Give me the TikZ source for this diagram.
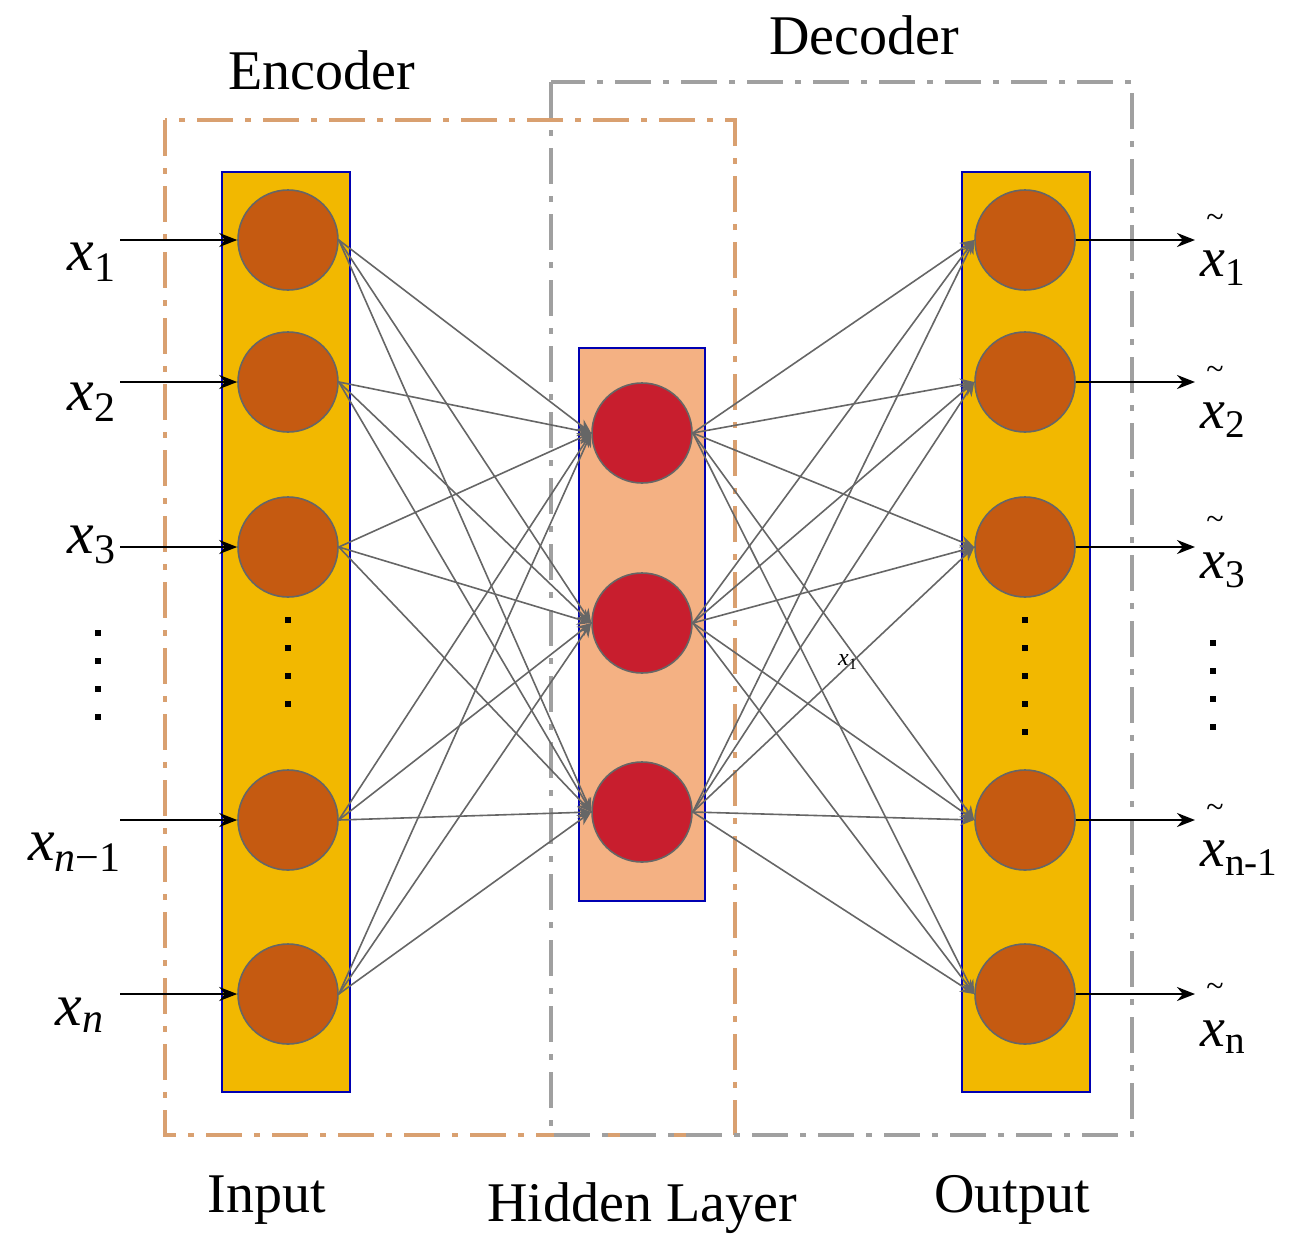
\documentclass[tikz,border=0pt]{standalone}
\usepackage{fontspec}
\setmainfont{Liberation Serif}
\usetikzlibrary{arrows.meta}
\definecolor{gold}{HTML}{F2B800}
\definecolor{rust}{HTML}{C55A11}
\definecolor{peach}{HTML}{F4B183}
\definecolor{crim}{HTML}{C81E2E}
\definecolor{encc}{HTML}{D9A070}
\definecolor{decc}{HTML}{A0A0A0}
\begin{document}
\begin{tikzpicture}[x=0.5pt,y=-0.5pt,
  col/.style={draw=blue!70!black,line width=0.8pt},
  neu/.style={circle,minimum size=50pt,inner sep=0,draw=gray!80!black,line width=0.8pt,fill=rust},
  hid/.style={neu,fill=crim},
  conn/.style={draw=gray!80!black,line width=0.8pt,-{Stealth[length=7pt,width=6pt]}},
  io/.style={line width=1.2pt,-{Stealth[length=9pt,width=7pt]}},
  lab/.style={font=\fontsize{28}{32}\selectfont},
  xl/.style={font=\fontsize{30}{34}\selectfont\itshape},
  dots/.style={line width=3pt,dash pattern=on 3pt off 11pt}]
\useasboundingbox (0,0) rectangle (1306,1253);
\fill[col,fill=gold] (222,172) rectangle (350,1092);
\fill[col,fill=peach] (579,348) rectangle (705,901);
\fill[col,fill=gold] (962,172) rectangle (1090,1092);
\draw[encc,line width=2pt,dash pattern=on 18pt off 6pt on 3pt off 6pt] (165,120) rectangle (735,1135);
\draw[decc,line width=2pt,dash pattern=on 18pt off 6pt on 3pt off 6pt] (551,82) rectangle (1132,1135);
\node[lab] (enc) at (322,70) {Encoder};
\node[lab] (dec) at (864,35) {Decoder};
\foreach \i/\y in {1/240,2/382,3/547,4/820,5/994}{
  \node[neu] (i\i) at (288,\y) {};
  \node[neu] (o\i) at (1025,\y) {};
}
\foreach \i/\y in {1/433,2/623,3/812}{\node[hid] (h\i) at (642,\y) {};}
\foreach \i in {1,...,5}{\foreach \j in {1,2,3}{
  \draw[conn] (i\i.east) -- (h\j.west);
  \draw[conn] (h\j.east) -- (o\i.west);
}}
\draw[dots] (288,617) -- (288,715);
\draw[dots] (1025,617) -- (1025,750);
\draw[dots] (98,630) -- (98,735);
\draw[dots] (1213,640) -- (1213,745);
\foreach \i/\y in {1/240,2/382,3/547,4/820,5/994}{
  \coordinate (a\i) at (120,\y);
  \coordinate (b\i) at (1195,\y);
  \draw[io] (a\i) -- (i\i.west);
  \draw[io] (o\i.east) -- (b\i);
}
\node[xl] (x1) at (92,262) {x\textsubscript{\upshape 1}};
\node[xl] (x2) at (92,402) {x\textsubscript{\upshape 2}};
\node[xl] (x3) at (92,545) {x\textsubscript{\upshape 3}};
\node[xl] (x4) at (75,852) {x\textsubscript{n\upshape −1}};
\node[xl] (x5) at (80,1015) {x\textsubscript{n}};
\foreach \n/\y/\s in {1/268/1,2/420/2,3/570/3,4/858/n-1,5/1037/n}{
  \node[font=\fontsize{28}{32}\selectfont,anchor=west,inner sep=0] (t\n) at (1200,\y) {\textit{x}\textsubscript{\s}};
  \node[font=\fontsize{16}{18}\selectfont] at (1215,\y-47) {\textasciitilde};
}
\node[font=\fontsize{12}{14}\selectfont\itshape] (st) at (848,662) {x\textsubscript{\upshape 1}};
\node[lab] (lin) at (267,1200) {Input};
\node[lab] (lhid) at (642,1208) {Hidden Layer};
\node[lab] (lout) at (1012,1200) {Output};
\end{tikzpicture}
\end{document}
